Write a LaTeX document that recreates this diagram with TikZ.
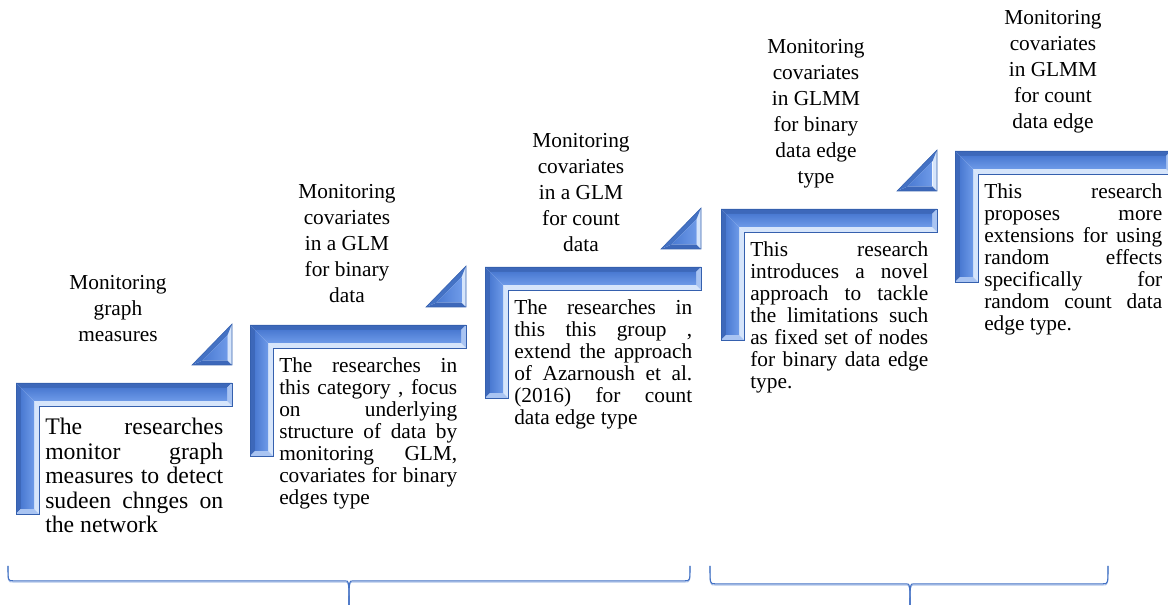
\documentclass[tikz,border=0pt]{standalone}
\usepackage{fontspec}
\setmainfont{Liberation Serif}
\usetikzlibrary{calc}

\definecolor{sbase}{HTML}{4472C4}
\definecolor{sdark}{HTML}{3D68BA}
\definecolor{sedge}{HTML}{3560AE}
\definecolor{sfaceA}{HTML}{4A7AD2}
\definecolor{sfaceB}{HTML}{6E9AE8}
\definecolor{slight}{HTML}{D6E5FB}
\definecolor{send}{HTML}{A9C4F2}
\definecolor{bracelt}{HTML}{AFC4EA}

\newlength\bodyw
\setlength\bodyw{133.5pt}
% one justified line of body text
\newcommand\jl[1]{\makebox[\bodyw][s]{#1}}

% bevelled corner bar; #1,#2 = top-left corner
\newcommand\stepbar[2]{%
  \begin{scope}[shift={(#1,#2)}]
    \fill[sdark] (0,0) -- (216,0) -- (211,5) -- (5,5) -- cycle;
    \fill[sdark] (0,0) -- (5,5) -- (5,126) -- (0,131) -- cycle;
    \fill[slight] (18,18) -- (211,18) -- (216,23) -- (23,23) -- cycle;
    \fill[slight] (18,18) -- (23,23) -- (23,131) -- (18,126) -- cycle;
    \fill[send] (216,0) -- (216,23) -- (211,18) -- (211,5) -- cycle;
    \fill[send] (0,131) -- (23,131) -- (18,126) -- (5,126) -- cycle;
    \shade[top color=sfaceA, bottom color=sfaceB]
      (5,5) -- (211,5) -- (211,18) -- (18,18) -- cycle;
    \shade[left color=sfaceA, right color=sfaceB]
      (5,5) -- (18,18) -- (18,126) -- (5,126) -- cycle;
    \draw[sedge, line width=0.4pt]
      (0,0) -- (216,0) -- (216,23) -- (23,23) -- (23,131) -- (0,131) -- cycle;
  \end{scope}}

% bevelled triangle above the right end of a bar; #1,#2 = bar's top-left corner
\newcommand\steptri[2]{%
  \begin{scope}[shift={(#1,#2)}]
    \fill[sdark] (176,-18) -- (216,-18) -- (211.5,-22.5) -- (186.7,-22.5) -- cycle;
    \fill[slight] (216,-18) -- (216,-59) -- (211.5,-47.9) -- (211.5,-22.5) -- cycle;
    \fill[sbase] (176,-18) -- (216,-59) -- (211.5,-47.9) -- (186.7,-22.5) -- cycle;
    \shade[left color=sfaceA, right color=sfaceB]
      (186.7,-22.5) -- (211.5,-22.5) -- (211.5,-47.9) -- cycle;
    \draw[sedge, line width=0.4pt] (176,-18) -- (216,-18) -- (216,-59) -- cycle;
  \end{scope}}

\tikzset{
  lbl/.style={align=center, inner sep=0pt, font=\fontsize{16}{19.5}\selectfont},
  bodytxt/.style={align=left, inner sep=0pt, anchor=north west,
    font=\fontsize{16}{16.5}\selectfont},
  bodyone/.style={bodytxt, font=\fontsize{17.8}{18.4}\selectfont},
  bracepath/.style={draw=sbase, line width=0.8pt},
  braceshadow/.style={draw=bracelt, line width=0.8pt}
}

\begin{document}
\begin{tikzpicture}[x=0.75pt, y=-0.75pt]
  \useasboundingbox (0,0) rectangle (1168,605);
  \clip (0,0) rectangle (1168,605);

  \stepbar{16}{383}  \steptri{16}{383}
  \stepbar{250}{325} \steptri{250}{325}
  \stepbar{485}{267} \steptri{485}{267}
  \stepbar{721}{209} \steptri{721}{209}
  \stepbar{955}{151}

  % step titles
  \node[lbl] (l1) at (118,309) {Monitoring\\graph\\measures};
  \node[lbl] (l2) at (347,244) {Monitoring\\covariates\\in a GLM\\for binary\\data};
  \node[lbl] (l3) at (581,193) {Monitoring\\covariates\\in a GLM\\for count\\data};
  \node[lbl] (l4) at (816,114) {Monitoring\\covariates\\in GLMM\\for binary\\data edge\\type};
  \node[lbl] (l5) at (1053,72) {Monitoring\\covariates\\in GLMM\\for count\\data edge};

  % step descriptions
  \node[bodyone] (b1) at (45,418) {\jl{The researches}\\\jl{monitor graph}\\
    \jl{measures to detect}\\\jl{sudeen chnges on}\\the network};
  \node[bodytxt] (b2) at (279,357) {\jl{The researches in}\\\jl{this category , focus}\\
    \jl{on underlying}\\\jl{structure of data by}\\\jl{monitoring GLM,}\\
    \jl{covariates for binary}\\edges type};
  \node[bodytxt] (b3) at (514,299) {\jl{The researches in}\\\jl{this this group ,}\\
    \jl{extend the approach}\\\jl{of Azarnoush et al.}\\\jl{(2016) for count}\\
    data edge type};
  \node[bodytxt] (b4) at (750,241) {\jl{This research}\\\jl{introduces a novel}\\
    \jl{approach to tackle}\\\jl{the limitations such}\\\jl{as fixed set of nodes}\\
    \jl{for binary data edge}\\type.};
  \node[bodytxt] (b5) at (984,183) {\jl{This research}\\\jl{proposes more}\\
    \jl{extensions for using}\\\jl{random effects}\\\jl{specifically for}\\
    \jl{random count data}\\edge type.};

  % grouping braces
  \foreach \xa/\xm/\xb/\yl/\st in {8/349/690/582/braceshadow, 8/349/690/580.8/bracepath,
                                   710/910/1108/585/braceshadow, 710/910/1108/583.8/bracepath}{
    \draw[\st] (\xa,566) .. controls (\xa,\yl) .. (\xa+5,\yl) -- (\xm-4,\yl)
      .. controls (\xm,\yl) .. (\xm,610);
    \draw[\st] (\xb,566) .. controls (\xb,\yl) .. (\xb-5,\yl) -- (\xm+4,\yl)
      .. controls (\xm,\yl) .. (\xm,610);
  }
\end{tikzpicture}
\end{document}
